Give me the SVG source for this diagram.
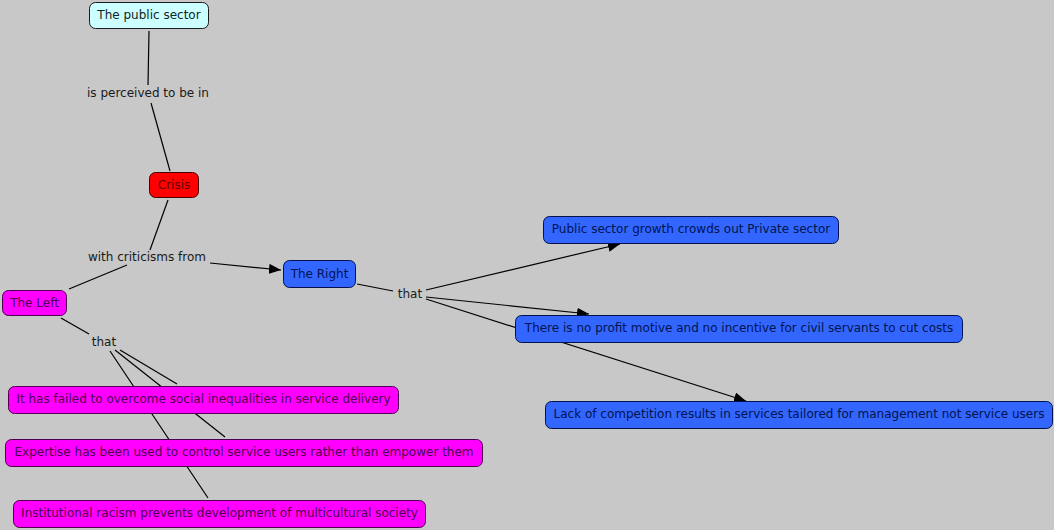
<svg xmlns="http://www.w3.org/2000/svg" width="1054" height="530" viewBox="0 0 1054 530">
<style>
text{font-family:"DejaVu Sans","Verdana",sans-serif;font-size:12px;text-anchor:middle;dominant-baseline:central}
.lbl{fill:#1a1a1a}
.n rect{stroke-width:1}
.cyan rect{fill:#ccffff;stroke:#1a1a1a}
.cyan text{fill:#0d2626}
.red rect{fill:#ff0000;stroke:#4d0000}
.red text{fill:#660000}
.mag rect{fill:#ff00ff;stroke:#4d004d}
.mag text{fill:#4d004d}
.blue rect{fill:#3366ff;stroke:#00114d}
.blue text{fill:#00144d}
#connectors line{stroke:#000;stroke-width:1.2}
</style>
<defs>
<marker id="arr" viewBox="0 0 12 10" refX="12" refY="5" markerWidth="12" markerHeight="10" markerUnits="userSpaceOnUse" orient="auto">
<path d="M0,0 L12,5 L0,10 z" fill="#000"/>
</marker>
</defs>
<rect width="1054" height="530" fill="#c8c8c8"/>
<g id="connectors">
<line x1="149" y1="31" x2="148" y2="85"/>
<line x1="151" y1="103" x2="170" y2="171"/>
<line x1="168" y1="200" x2="150" y2="250"/>
<line x1="69" y1="289" x2="127" y2="265"/>
<line x1="210" y1="263" x2="281" y2="270" marker-end="url(#arr)"/>
<line x1="61" y1="318" x2="89" y2="334"/>
<line x1="110" y1="351" x2="208" y2="498"/>
<line x1="115" y1="350" x2="225" y2="437"/>
<line x1="120" y1="350" x2="177" y2="384"/>
<line x1="357" y1="284" x2="393" y2="291"/>
<line x1="426" y1="290" x2="620" y2="244" marker-end="url(#arr)"/>
<line x1="426" y1="297" x2="589" y2="314" marker-end="url(#arr)"/>
<line x1="426" y1="299" x2="746" y2="401" marker-end="url(#arr)"/>
</g>
<g id="link-labels">
<text class="lbl" x="148" y="93">is perceived to be in</text>
<text class="lbl" x="147" y="257">with criticisms from</text>
<text class="lbl" x="104" y="342">that</text>
<text class="lbl" x="410" y="294">that</text>
</g>
<g id="public-sector" class="n cyan"><rect x="89.5" y="2.5" width="119" height="26" rx="6"/><text x="149" y="15">The public sector</text></g>
<g id="crisis" class="n red"><rect x="149.5" y="172.5" width="49" height="25" rx="6"/><text x="174" y="185">Crisis</text></g>
<g id="the-left" class="n mag"><rect x="2.5" y="290.5" width="64" height="25" rx="6"/><text x="34.5" y="303">The Left</text></g>
<g id="the-right" class="n blue"><rect x="283.5" y="260.5" width="72" height="27" rx="6"/><text x="319.5" y="274">The Right</text></g>
<g id="growth" class="n blue"><rect x="543.5" y="216.5" width="295" height="27" rx="6"/><text x="691" y="229">Public sector growth crowds out Private sector</text></g>
<g id="profit" class="n blue"><rect x="515.5" y="315.5" width="447" height="27" rx="6"/><text x="739" y="328">There is no profit motive and no incentive for civil servants to cut costs</text></g>
<g id="competition" class="n blue"><rect x="545.5" y="401.5" width="507" height="27" rx="6"/><text x="799" y="414">Lack of competition results in services tailored for management not service users</text></g>
<g id="inequalities" class="n mag"><rect x="8.5" y="386.5" width="390" height="27" rx="6"/><text x="203.5" y="399">It has failed to overcome social inequalities in service delivery</text></g>
<g id="expertise" class="n mag"><rect x="5.5" y="439.5" width="477" height="27" rx="6"/><text x="244" y="452">Expertise has been used to control service users rather than empower them</text></g>
<g id="racism" class="n mag"><rect x="13.5" y="500.5" width="412" height="27" rx="6"/><text x="219.5" y="513">Institutional racism prevents development of multicultural society</text></g>
</svg>
